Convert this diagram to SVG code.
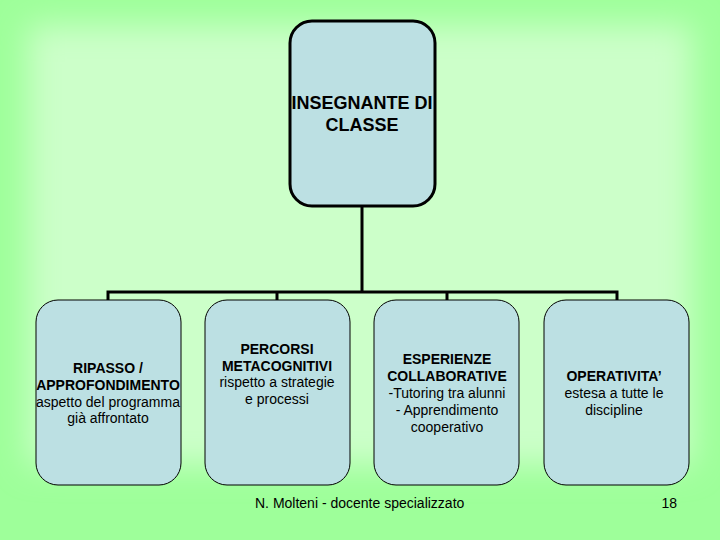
<svg xmlns="http://www.w3.org/2000/svg" width="720" height="540" viewBox="0 0 720 540">
<defs>
<filter id="blur" x="-20%" y="-20%" width="140%" height="140%"><feGaussianBlur stdDeviation="16"/></filter>
<style>
.child{fill:#BCE0E3;stroke:#000;stroke-width:1}
.t{font-family:"Liberation Sans",Arial,sans-serif;font-size:14px;fill:#000;text-anchor:middle}
.b{font-weight:bold}
.conn{fill:none;stroke:#000;stroke-width:3}
</style>
</defs>
<rect x="0" y="0" width="720" height="540" fill="#9EFF9A"/>
<rect x="28" y="25" width="664" height="440" fill="#CCFFC9" filter="url(#blur)"/>
<g id="connectors">
<path class="conn" d="M362 207 V292 M108 300 V292 H617 V300 M277 292 V300 M447 292 V300"/>
</g>
<g id="root">
<rect x="290" y="21" width="145" height="185" rx="22" fill="#BCE0E3" stroke="#000" stroke-width="3"/>
<text class="t b" x="362" y="109" style="font-size:18px">INSEGNANTE DI</text>
<text class="t b" x="362" y="131" style="font-size:18px">CLASSE</text>
</g>
<g id="n1">
<rect class="child" x="36" y="300" width="145" height="185" rx="22"/>
<text class="t b" x="108" y="373">RIPASSO /</text>
<text class="t b" x="108" y="390">APPROFONDIMENTO</text>
<text class="t" x="108" y="407">aspetto del programma</text>
<text class="t" x="108" y="423">già affrontato</text>
</g>
<g id="n2">
<rect class="child" x="205" y="300" width="145" height="185" rx="22"/>
<text class="t b" x="277" y="354">PERCORSI</text>
<text class="t b" x="277" y="371">METACOGNITIVI</text>
<text class="t" x="277" y="387">rispetto a strategie</text>
<text class="t" x="277" y="404">e processi</text>
</g>
<g id="n3">
<rect class="child" x="374" y="300" width="145" height="185" rx="22"/>
<text class="t b" x="447" y="364">ESPERIENZE</text>
<text class="t b" x="447" y="381">COLLABORATIVE</text>
<text class="t" x="447" y="398">-Tutoring tra alunni</text>
<text class="t" x="447" y="415">- Apprendimento</text>
<text class="t" x="447" y="432">cooperativo</text>
</g>
<g id="n4">
<rect class="child" x="544" y="300" width="145" height="185" rx="22"/>
<text class="t b" x="614" y="381">OPERATIVITA’</text>
<text class="t" x="614" y="398">estesa a tutte le</text>
<text class="t" x="614" y="415">discipline</text>
</g>
<text class="t" x="255" y="508" style="text-anchor:start">N. Molteni - docente specializzato</text>
<text class="t" x="677" y="508" style="text-anchor:end">18</text>
</svg>
